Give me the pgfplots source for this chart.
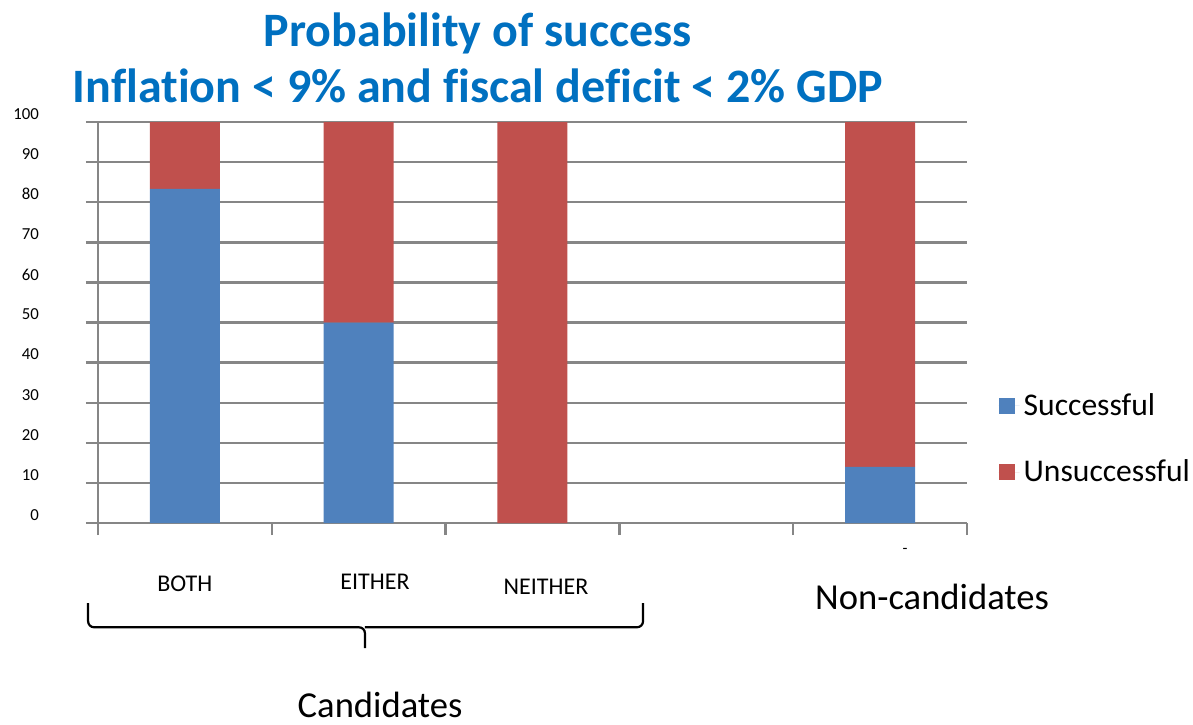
\documentclass[border=0pt]{standalone}
\usepackage{pgfplots}
\pgfplotsset{compat=1.18}
\usepackage{fontspec}
\setmainfont{Carlito}[Ligatures=NoCommon]
\definecolor{succblue}{HTML}{4F81BD}
\definecolor{failred}{HTML}{C0504D}
\definecolor{gridgray}{HTML}{868686}
\definecolor{titleblue}{HTML}{0070C0}

\begin{document}
\begin{tikzpicture}
\useasboundingbox (-49pt,-100.5pt) rectangle (547.5pt,261.5pt);
\begin{axis}[
  scale only axis, width=434.5pt, height=200.5pt,
  xmin=-0.5, xmax=4.5, ymin=0, ymax=100,
  ybar stacked, bar width=35pt,
  axis x line=bottom, axis y line=left,
  axis line style={draw=gridgray, line width=1.2pt, -},
  xtick={-0.5,0.5,1.5,2.5,3.5,4.5}, xticklabels={},
  ytick={0,10,...,100},
  ymajorgrids, grid style={draw=gridgray, line width=1.2pt},
  tick align=outside, major tick length=6pt,
  tick style={draw=gridgray, line width=1.2pt},
  /pgf/number format/assume math mode=true,
  yticklabel style={font=\fontsize{8.4}{10}\selectfont, anchor=east, xshift=-20pt, yshift=4pt},
  clip=false,
  legend style={at={(rel axis cs:1.036,0.335)}, anchor=north west, draw=none, fill=none,
    font=\fontsize{15.8}{19}\selectfont, row sep=17pt, inner sep=0pt},
  legend cell align=left,
  legend image code/.code={\fill[#1] (0pt,-4pt) rectangle (8pt,4pt);
    \path (0pt,0pt) -- (10.5pt,0pt);},
]
\addplot[fill=succblue, draw=none] coordinates {(0,83.3) (1,50) (2,0) (4,14)};
\addplot[fill=failred, draw=none] coordinates {(0,16.7) (1,50) (2,100) (4,86)};
\legend{Successful, Unsuccessful}

% category names under the axis
\node[font=\fontsize{12}{14}\selectfont] at (axis cs:0,-15.2) {BOTH};
\node[font=\fontsize{12}{14}\selectfont] at (axis cs:1.094,-14.7) {EITHER};
\node[font=\fontsize{12}{14}\selectfont] at (axis cs:2.078,-16) {NEITHER};
\node[font=\fontsize{8}{10}\selectfont] at (axis cs:4.143,-7) {-};
\node[font=\fontsize{18.3}{22}\selectfont] at (axis cs:4.299,-18.5) {Non-candidates};

% brace grouping the candidate categories
\draw[black, line width=1.1pt, rounded corners=3pt]
  (axis cs:-0.557,-20) -- (axis cs:-0.557,-26) -- (axis cs:1.036,-26) -- (axis cs:1.036,-31.2);
\draw[black, line width=1.1pt, rounded corners=3pt]
  (axis cs:2.636,-20) -- (axis cs:2.636,-26) -- (axis cs:1.036,-26);
\node[font=\fontsize{18.3}{22}\selectfont] at (axis cs:1.123,-45.4) {Candidates};

% title
\node[align=center, font=\bfseries\fontsize{24}{28}\selectfont, text=titleblue]
  at (rel axis cs:0.437,1.16) {Probability of success\\Inflation < 9\% and fiscal deficit < 2\% GDP};
\end{axis}
\end{tikzpicture}
\end{document}
